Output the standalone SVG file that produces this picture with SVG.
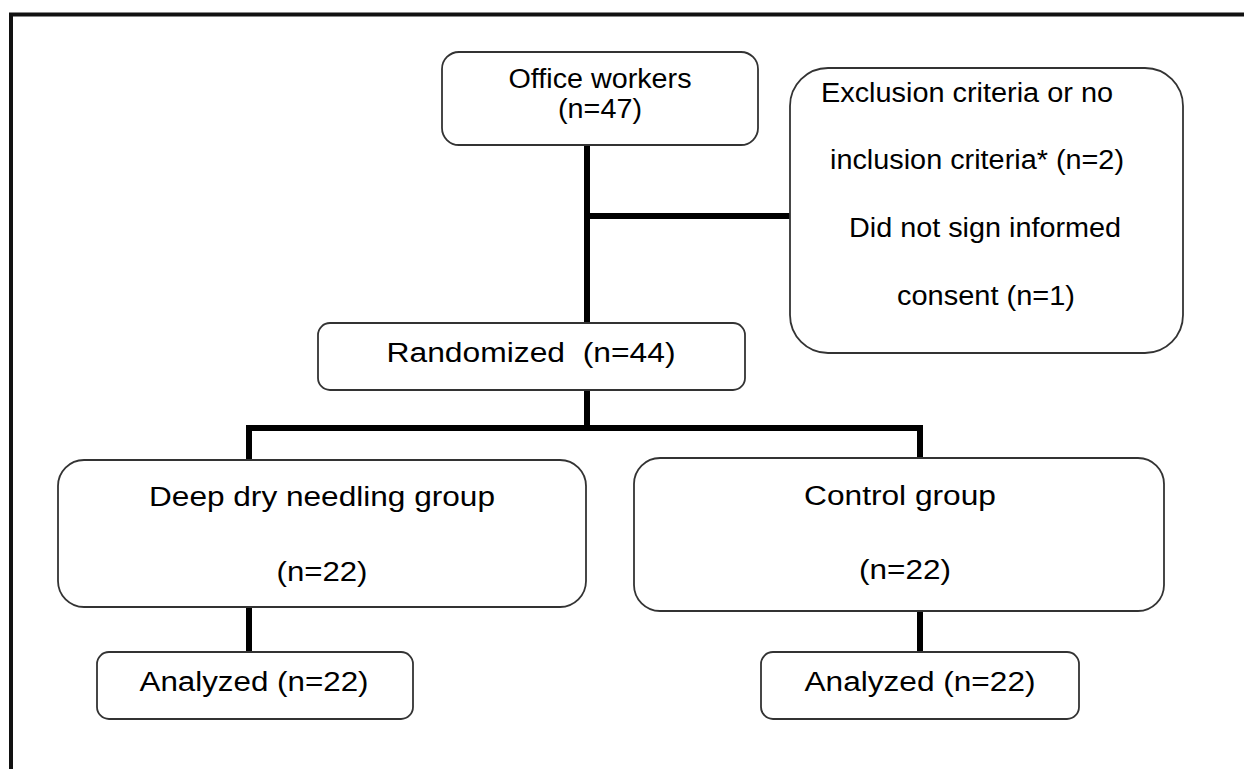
<svg xmlns="http://www.w3.org/2000/svg" width="1244" height="769" viewBox="0 0 1244 769">
<style>
.box{fill:#fff;stroke:#333;stroke-width:1.8}
.conn{fill:none;stroke:#000;stroke-width:6;stroke-linejoin:miter;stroke-linecap:butt}
.frame{fill:none;stroke:#111;stroke-width:4}
text{font-family:"Liberation Sans",Arial,sans-serif;font-size:27px;fill:#000}
.c{text-anchor:middle}
</style>
<rect x="0" y="0" width="1244" height="769" fill="#fff"/>
<g id="frame">
<path class="frame" d="M11,769 V14.5 H1244"/>
</g>
<g id="connectors">
<path class="conn" d="M587,145 V323"/>
<path class="conn" d="M587,216 H795"/>
<path class="conn" d="M587,390 V428"/>
<path class="conn" d="M249,460 V428 H920 V458"/>
<path class="conn" d="M249,607 V652"/>
<path class="conn" d="M920,611 V652"/>
</g>
<g id="office">
<rect class="box" x="442" y="52" width="316" height="93" rx="17"/>
<text class="c" x="600" y="88" textLength="183" lengthAdjust="spacingAndGlyphs">Office workers</text>
<text class="c" x="600" y="118" textLength="84" lengthAdjust="spacingAndGlyphs">(n=47)</text>
</g>
<g id="exclusion">
<rect class="box" x="790" y="68" width="393" height="285" rx="38"/>
<text x="821" y="102" textLength="292" lengthAdjust="spacingAndGlyphs">Exclusion criteria or no</text>
<text x="830" y="169" textLength="294" lengthAdjust="spacingAndGlyphs">inclusion criteria* (n=2)</text>
<text x="849" y="237" textLength="272" lengthAdjust="spacingAndGlyphs">Did not sign informed</text>
<text x="897" y="305" textLength="178" lengthAdjust="spacingAndGlyphs">consent (n=1)</text>
</g>
<g id="randomized">
<rect class="box" x="318" y="323" width="427" height="67" rx="12"/>
<text class="c" x="531" y="362" textLength="289" lengthAdjust="spacingAndGlyphs" xml:space="preserve">Randomized  (n=44)</text>
</g>
<g id="ddn-group">
<rect class="box" x="58" y="460" width="528" height="147" rx="26"/>
<text class="c" x="322" y="506" textLength="346" lengthAdjust="spacingAndGlyphs">Deep dry needling group</text>
<text class="c" x="322" y="581" textLength="91" lengthAdjust="spacingAndGlyphs">(n=22)</text>
</g>
<g id="control-group">
<rect class="box" x="634" y="458" width="530" height="153" rx="26"/>
<text class="c" x="900" y="505" textLength="192" lengthAdjust="spacingAndGlyphs">Control group</text>
<text class="c" x="905" y="579" textLength="92" lengthAdjust="spacingAndGlyphs">(n=22)</text>
</g>
<g id="analyzed-ddn">
<rect class="box" x="97" y="652" width="316" height="67" rx="12"/>
<text class="c" x="254" y="691" textLength="229" lengthAdjust="spacingAndGlyphs">Analyzed (n=22)</text>
</g>
<g id="analyzed-control">
<rect class="box" x="761" y="652" width="318" height="67" rx="12"/>
<text class="c" x="920" y="691" textLength="231" lengthAdjust="spacingAndGlyphs">Analyzed (n=22)</text>
</g>
</svg>
